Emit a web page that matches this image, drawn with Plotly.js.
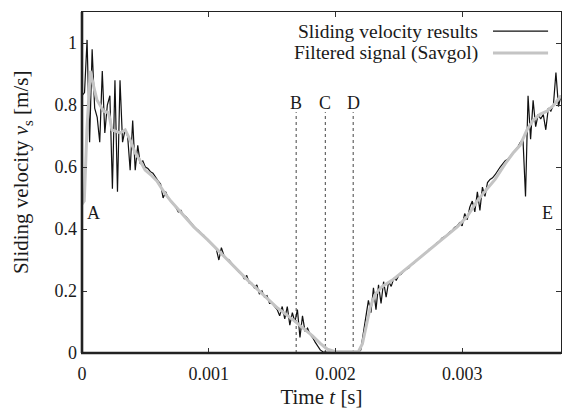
<!DOCTYPE html>
<html>
<head>
<meta charset="utf-8">
<script src="https://cdn.plot.ly/plotly-3.0.1.min.js"></script>
<style>html,body{margin:0;padding:0;background:#fff}#chart{width:562px;height:412px}</style>
</head>
<body>
<div id="chart"></div>
<script>
// Raw sliding velocity (black), time in seconds
const rawTime = [
0,0.00002,0.00004,0.00006,0.00008,0.0001,0.00012,0.00014,0.00016,0.00018,
0.0002,0.00022,0.00024,0.00026,0.00028,0.0003,0.00032,0.00034,0.00036,0.00038,
0.0004,0.00042,0.00044,0.00046,0.00048,0.0005,0.00052,0.00054,0.00056,0.00058,
0.0006,0.00062,0.00064,0.00066,0.00068,0.0007,0.00072,0.00074,0.00076,0.00078,
0.0008,0.00082,0.00084,0.00086,0.00088,0.0009,0.00092,0.00094,0.00096,0.00098,
0.001,0.00102,0.00104,0.00106,0.00108,0.0011,0.00112,0.00114,0.00116,0.00118,
0.0012,0.00122,0.00124,0.00126,0.00128,0.0013,0.00132,0.00134,0.00136,0.00138,
0.0014,0.00142,0.00144,0.00146,0.00148,0.0015,0.00152,0.00154,0.00156,0.00158,
0.0016,0.00162,0.00164,0.00166,0.00168,0.0017,0.00172,0.00174,0.00176,0.00178,
0.0018,0.00182,0.00184,0.00186,0.00188,0.0019,0.00192,0.00194,0.00196,0.00198,
0.002,0.00202,0.00204,0.00206,0.00208,0.0021,0.00212,0.00214,0.00216,0.00218,
0.0022,0.00222,0.00224,0.00226,0.00228,0.0023,0.00232,0.00234,0.00236,0.00238,
0.0024,0.00242,0.00244,0.00246,0.00248,0.0025,0.00252,0.00254,0.00256,0.00258,
0.0026,0.00262,0.00264,0.00266,0.00268,0.0027,0.00272,0.00274,0.00276,0.00278,
0.0028,0.00282,0.00284,0.00286,0.00288,0.0029,0.00292,0.00294,0.00296,0.00298,
0.003,0.00302,0.00304,0.00306,0.00308,0.0031,0.00312,0.00314,0.00316,0.00318,
0.0032,0.00322,0.00324,0.00326,0.00328,0.0033,0.00332,0.00334,0.00336,0.00338,
0.0034,0.00342,0.00344,0.00346,0.00348,0.0035,0.00352,0.00354,0.00356,0.00358,
0.0036,0.00362,0.00364,0.00366,0.00368,0.0037,0.00372,0.00374,0.00376,0.00378
];
const rawVelocity = [
0.83,0.84,1.01,0.68,0.98,0.79,0.76,0.68,0.91,0.71,
0.80,0.83,0.53,0.88,0.52,0.88,0.68,0.72,0.70,0.59,
0.75,0.59,0.67,0.61,0.62,0.60,0.595,0.585,0.58,0.565,
0.555,0.545,0.50,0.52,0.50,0.49,0.48,0.47,0.455,0.46,
0.445,0.44,0.43,0.42,0.41,0.40,0.395,0.385,0.38,0.37,
0.36,0.355,0.345,0.335,0.30,0.34,0.315,0.305,0.30,0.29,
0.28,0.27,0.26,0.255,0.24,0.25,0.225,0.225,0.21,0.22,
0.19,0.20,0.18,0.185,0.16,0.16,0.15,0.14,0.12,0.15,
0.11,0.15,0.09,0.13,0.10,0.14,0.05,0.12,0.07,0.08,
0.06,0.05,0.035,0.02,0.01,0.004,0.002,0.002,0.003,0.002,
0.002,0.003,0.002,0.002,0.003,0.002,0.002,0.003,0.002,0.002,
0.01,0.06,0.12,0.17,0.13,0.21,0.14,0.22,0.16,0.23,
0.18,0.23,0.215,0.24,0.235,0.25,0.255,0.265,0.27,0.275,
0.285,0.29,0.30,0.305,0.31,0.32,0.325,0.335,0.34,0.345,
0.355,0.36,0.37,0.375,0.38,0.39,0.395,0.405,0.41,0.42,
0.41,0.45,0.43,0.47,0.49,0.455,0.52,0.46,0.535,0.505,
0.55,0.56,0.565,0.575,0.59,0.60,0.61,0.62,0.625,0.635,
0.645,0.655,0.665,0.68,0.69,0.505,0.83,0.69,0.815,0.73,
0.77,0.755,0.77,0.72,0.79,0.78,0.80,0.905,0.795,0.83
];
// Savgol filtered signal (grey)
const filtTime = [
0,0.000018,0.000039,0.000065,0.000092,0.000118,0.000171,0.00021,0.000236,0.000302,
0.000341,0.00038,0.00042,0.000459,0.000498,0.000543,0.000591,0.000646,0.000701,0.00078,
0.000882,0.000992,0.001094,0.001197,0.001307,0.001425,0.001543,0.001669,0.001748,0.001819,
0.001882,0.001937,0.002,0.002079,0.002181,0.002213,0.002244,0.002276,0.002315,0.00237,
0.002449,0.002528,0.002614,0.002748,0.002866,0.002961,0.003039,0.003118,0.003197,0.00326,
0.003339,0.003402,0.003457,0.003512,0.003559,0.003614,0.003669,0.003724,0.00378
];
const filtVelocity = [
0.48,0.49,0.72,0.91,0.86,0.816,0.78,0.775,0.72,0.71,
0.72,0.687,0.645,0.62,0.59,0.575,0.555,0.52,0.49,0.455,
0.407,0.365,0.322,0.28,0.235,0.19,0.145,0.106,0.08,0.055,
0.03,0.012,0.004,0.003,0.004,0.03,0.09,0.15,0.19,0.215,
0.235,0.26,0.29,0.335,0.375,0.407,0.44,0.49,0.53,0.56,
0.61,0.645,0.67,0.72,0.75,0.77,0.78,0.80,0.83
];
// Event markers
const eventLabels = ['B','C','D'];
const eventTimes = [0.00169, 0.00192, 0.00214];
const pointLabels = ['A','E'];
const pointTimes = [0.000087, 0.003677];
const pointVel = [0.452, 0.452];
const xTickVals = [0, 0.001, 0.002, 0.003];
const xTickText = ['0','0.001','0.002','0.003'];
const yTickVals = [0, 0.2, 0.4, 0.6, 0.8, 1];
const yTickText = ['0','0.2','0.4','0.6','0.8','1'];
const legendNames = ['Sliding velocity results','Filtered signal (Savgol)'];
const yTitle = 'Sliding velocity <i>v</i><sub>s</sub> [m/s]';

const FONT = '"Liberation Serif", "DejaVu Serif", "Times New Roman", Times, serif';
const INK = '#1a1a1a';

const traces = [
  {x: rawTime, y: rawVelocity, type: 'scatter', mode: 'lines',
   line: {color: '#111111', width: 1.2}, showlegend: false, hoverinfo: 'skip'},
  {x: filtTime, y: filtVelocity, type: 'scatter', mode: 'lines',
   line: {color: '#c4c4c4', width: 3}, showlegend: false, hoverinfo: 'skip'}
];

const shapes = eventTimes.map(t => ({
  type: 'line', xref: 'x', yref: 'y', x0: t, x1: t, y0: 0, y1: 0.777,
  line: {color: '#444', width: 1, dash: '3px,3px'}, layer: 'below'
}));
shapes.push({type:'line', xref:'paper', yref:'paper', x0:-0.002, x1:1, y0:0, y1:0,
  line:{color:'#222', width:2.6}});
shapes.push({type:'line', xref:'paper', yref:'paper', x0:0, x1:0, y0:0, y1:1,
  line:{color:'#222', width:2.6}});
shapes.push({type:'line', xref:'paper', yref:'paper', x0:0.858, x1:0.973, y0:0.944, y1:0.944,
  line:{color:'#111', width:1.2}});
shapes.push({type:'line', xref:'paper', yref:'paper', x0:0.858, x1:0.973, y0:0.880, y1:0.880,
  line:{color:'#c4c4c4', width:3}});

const annotations = [];
eventTimes.forEach((t,i) => annotations.push({
  x: t, y: 0.806, xref: 'x', yref: 'y', text: eventLabels[i], showarrow: false,
  font: {family: FONT, size: 18, color: INK}
}));
pointTimes.forEach((t,i) => annotations.push({
  x: t, y: pointVel[i], xref: 'x', yref: 'y', text: pointLabels[i], showarrow: false,
  font: {family: FONT, size: 18, color: INK}
}));
legendNames.forEach((n,i) => annotations.push({
  x: 0.831, y: i === 0 ? 0.944 : 0.880, xref: 'paper', yref: 'paper',
  xanchor: 'right', yanchor: 'middle',
  text: n, showarrow: false, font: {family: FONT, size: 19.5, color: INK}
}));
// y-axis title placed as rotated annotation
annotations.push({
  x: -0.125, y: 0.528, xref: 'paper', yref: 'paper', xanchor: 'center', yanchor: 'middle',
  textangle: -90, text: yTitle, showarrow: false, font: {family: FONT, size: 21, color: INK}
});

const layout = {
  width: 562, height: 412,
  margin: {l: 82, r: 1, t: 12, b: 59},
  paper_bgcolor: '#fff', plot_bgcolor: '#fff',
  showlegend: false,
  font: {family: FONT, size: 17, color: INK},
  xaxis: {
    range: [0, 0.00378], tickvals: xTickVals, ticktext: xTickText,
    ticks: 'inside', ticklen: 5, tickwidth: 1, tickcolor: '#333',
    showline: true, mirror: 'ticks', linewidth: 1.3, linecolor: '#222', showgrid: false, zeroline: false,
    tickfont: {family: FONT, size: 18, color: INK}, ticklabelstandoff: 4,
    title: {text: 'Time <i>t</i> [s]', font: {family: FONT, size: 21, color: INK}, standoff: 6}
  },
  yaxis: {
    range: [0, 1.1], tickvals: yTickVals, ticktext: yTickText,
    ticks: 'inside', ticklen: 5, tickwidth: 1, tickcolor: '#333',
    showline: true, mirror: 'ticks', linewidth: 1.3, linecolor: '#222', showgrid: false, zeroline: false,
    tickfont: {family: FONT, size: 18, color: INK}
  },
  shapes: shapes,
  annotations: annotations
};

Plotly.newPlot('chart', traces, layout, {staticPlot: true, displayModeBar: false});
</script>
</body>
</html>
